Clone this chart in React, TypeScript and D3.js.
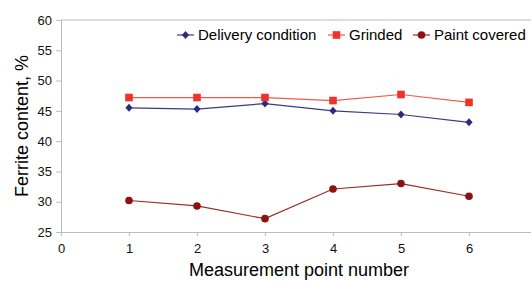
import * as d3 from "d3";
import React, { useEffect, useRef } from "react";

const points = [1, 2, 3, 4, 5, 6];
const delivery = [45.5, 45.3, 46.2, 45.0, 44.4, 43.1];
const grinded = [47.2, 47.2, 47.2, 46.7, 47.7, 46.4];
const paint = [30.2, 29.3, 27.2, 32.1, 33.0, 30.9];
const yTicks = [25, 30, 35, 40, 45, 50, 55, 60];
const xTicks = [0, 1, 2, 3, 4, 5, 6];

const series = [
  { name: "Delivery condition", values: delivery, color: "#2b2b7c", line: "#3a3a86", shape: "diamond", lx: 177 },
  { name: "Grinded", values: grinded, color: "#f0322a", line: "#f05a4a", shape: "square", lx: 328 },
  { name: "Paint covered", values: paint, color: "#8a1212", line: "#9a2a2a", shape: "circle", lx: 413 },
];

export default function App() {
  const ref = useRef<SVGSVGElement>(null);

  useEffect(() => {
    const svg = d3.select(ref.current);
    svg.selectAll("*").remove();
    const font = "Liberation Sans, Arial, sans-serif";

    const x = d3.scaleLinear().domain([0, 7]).range([61, 537]);
    const y = d3.scaleLinear().domain([25, 60]).range([232, 20]);

    // frame lines
    svg.append("line").attr("x1", 61).attr("x2", 537).attr("y1", 20).attr("y2", 20)
      .attr("stroke", "#bbbbbb").attr("stroke-width", 1);

    const yAxis = svg.append("g").attr("transform", "translate(61,0)")
      .call(d3.axisLeft(y).tickValues(yTicks).tickSize(5).tickPadding(4).tickFormat(d3.format("d")));
    const xAxis = svg.append("g").attr("transform", "translate(0,232)")
      .call(d3.axisBottom(x).tickValues(xTicks).tickSize(4).tickPadding(8).tickFormat(d3.format("d")));
    [yAxis, xAxis].forEach((g) => {
      g.select(".domain").attr("stroke", "#bbbbbb");
      g.selectAll(".tick line").attr("stroke", "#bbbbbb");
      g.selectAll("text").attr("font-family", font).attr("font-size", 13).attr("fill", "#111");
    });

    const line = d3.line<number>().x((d, i) => x(points[i])).y((d) => y(d));

    const drawMarker = (g, shape, cx, cy, color) => {
      if (shape === "square") {
        g.append("rect").attr("x", cx - 3.8).attr("y", cy - 3.8).attr("width", 7.6).attr("height", 7.6).attr("fill", color);
      } else if (shape === "circle") {
        g.append("circle").attr("cx", cx).attr("cy", cy).attr("r", 3.8).attr("fill", color);
      } else {
        g.append("path").attr("d", "M0,-4L3.6,0L0,4L-3.6,0Z").attr("transform", `translate(${cx},${cy})`).attr("fill", color);
      }
    };

    series.forEach((s) => {
      const g = svg.append("g");
      g.append("path").attr("d", line(s.values)).attr("fill", "none").attr("stroke", s.line).attr("stroke-width", 1.2);
      s.values.forEach((v, i) => drawMarker(g, s.shape, x(points[i]), y(v), s.color));

      // legend
      const lg = svg.append("g");
      lg.append("line").attr("x1", s.lx).attr("x2", s.lx + 17).attr("y1", 35).attr("y2", 35).attr("stroke", s.line).attr("stroke-width", 1.2);
      drawMarker(lg, s.shape, s.lx + 8.5, 35, s.color);
      lg.append("text").attr("x", s.lx + 21).attr("y", 40).attr("font-family", font).attr("font-size", 15).attr("fill", "#000").text(s.name);
    });

    svg.append("text").attr("transform", "translate(28,126) rotate(-90)").attr("text-anchor", "middle")
      .attr("font-family", font).attr("font-size", 18).attr("fill", "#000").text("Ferrite content, %");
    svg.append("text").attr("x", 299).attr("y", 276).attr("text-anchor", "middle")
      .attr("font-family", font).attr("font-size", 18).attr("fill", "#000").text("Measurement point number");
  }, []);

  return (
    <svg ref={ref} width={531} height={281} style={{ position: "absolute", left: 0, top: 0, background: "#fff" }} />
  );
}
